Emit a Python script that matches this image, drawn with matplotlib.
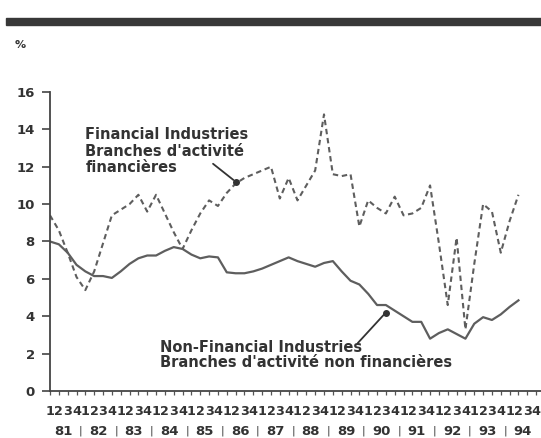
import matplotlib
matplotlib.use('Agg')
import matplotlib.pyplot as plt
import numpy as np
from matplotlib.patches import Rectangle
from matplotlib.transforms import blended_transform_factory

# quarterly data, 81Q1 .. 94Q2
years = ['81', '82', '83', '84', '85', '86', '87', '88', '89', '90', '91', '92', '93', '94']
quarters = ['1', '2', '3', '4']
y_ticks = [0, 2, 4, 6, 8, 10, 12, 14, 16]

financial = [9.4, 8.6, 7.4, 6.1, 5.4, 6.4, 7.9, 9.4, 9.7, 10.0,
             10.5, 9.6, 10.5, 9.5, 8.5, 7.6, 8.6, 9.5, 10.2, 9.9,
             10.6, 11.1, 11.4, 11.6, 11.8, 12.0, 10.3, 11.4, 10.2, 11.0,
             11.8, 14.8, 11.6, 11.5, 11.6, 8.8, 10.2, 9.8, 9.5, 10.4,
             9.4, 9.5, 9.8, 11.0, 7.9, 4.6, 8.2, 3.3, 6.8, 10.0,
             9.6, 7.4, 9.1, 10.5]
non_financial = [8.0, 7.85, 7.4, 6.75, 6.4, 6.15, 6.15, 6.05, 6.4, 6.8,
                 7.1, 7.25, 7.25, 7.5, 7.7, 7.6, 7.3, 7.1, 7.2, 7.15,
                 6.35, 6.3, 6.3, 6.4, 6.55, 6.75, 6.95, 7.15, 6.95, 6.8,
                 6.65, 6.85, 6.95, 6.4, 5.9, 5.7, 5.2, 4.6, 4.6, 4.3,
                 4.0, 3.7, 3.7, 2.8, 3.1, 3.3, 3.05, 2.8, 3.6, 3.95,
                 3.8, 4.1, 4.5, 4.85]

plt.rcParams['font.family'] = 'DejaVu Sans'
plt.rcParams['font.weight'] = 'bold'

ink = '#333333'
line_col = '#5e5e5e'

fig = plt.figure(figsize=(5.41, 4.38), dpi=100)
ax = fig.add_axes([0.0924, 0.1073, 0.9076, 0.6827])

x = np.arange(len(financial))
ax.plot(x, non_financial, color=line_col, lw=1.6)
ax.plot(x, financial, color=line_col, lw=1.5, dashes=(2.6, 1.8))

ax.set_xlim(0, 55.55)
ax.set_ylim(0, 16)
for s in ['top', 'right']:
    ax.spines[s].set_visible(False)
for s in ['left', 'bottom']:
    ax.spines[s].set_color('#444444')
    ax.spines[s].set_linewidth(1.3)

ax.set_yticks(y_ticks)
ax.tick_params(axis='y', length=6, width=1.2, color='#444444', pad=5,
               labelsize=9.5, labelcolor=ink)
n_q = len(years) * 4
ax.set_xticks(np.arange(n_q))
ax.set_xticklabels(quarters * len(years))
ax.tick_params(axis='x', length=3, width=0.9, color='#555555', pad=7,
               labelsize=9.2, labelcolor=ink)

# year row under the quarter digits
trans = blended_transform_factory(ax.transData, ax.transAxes)
for i, yr in enumerate(years):
    ax.text(4 * i + 1.5, -0.134, yr, transform=trans, ha='center', va='center',
            fontsize=9.5, color=ink, clip_on=False)
    if i < len(years) - 1:
        ax.text(4 * i + 3.5, -0.134, '|', transform=trans, ha='center', va='center',
                fontsize=8, fontweight='normal', color=ink, clip_on=False)

# labels with pointers
ax.text(4.0, 14.1, "Financial Industries\nBranches d'activité\nfinancières",
        ha='left', va='top', fontsize=10.5, linespacing=1.1, color=ink)
ax.annotate('', xy=(21.0, 11.2), xytext=(18.2, 12.25),
            arrowprops=dict(arrowstyle='-', color=ink, lw=1.3))
ax.plot(21.0, 11.2, 'o', color=ink, ms=4)

ax.text(12.4, 2.75, "Non-Financial Industries\nBranches d'activité non financières",
        ha='left', va='top', fontsize=10.5, linespacing=1.05, color=ink)
ax.annotate('', xy=(38.0, 4.2), xytext=(34.6, 2.45),
            arrowprops=dict(arrowstyle='-', color=ink, lw=1.3))
ax.plot(38.0, 4.2, 'o', color=ink, ms=4)

fig.text(15 / 541, 1 - 45 / 438, '%', fontsize=8, color=ink, ha='left', va='center')
fig.patches.append(Rectangle((0.012, 1 - 25 / 438), 0.988, 7 / 438,
                             transform=fig.transFigure, color='#383838'))

fig.savefig('out.png', dpi=100)
